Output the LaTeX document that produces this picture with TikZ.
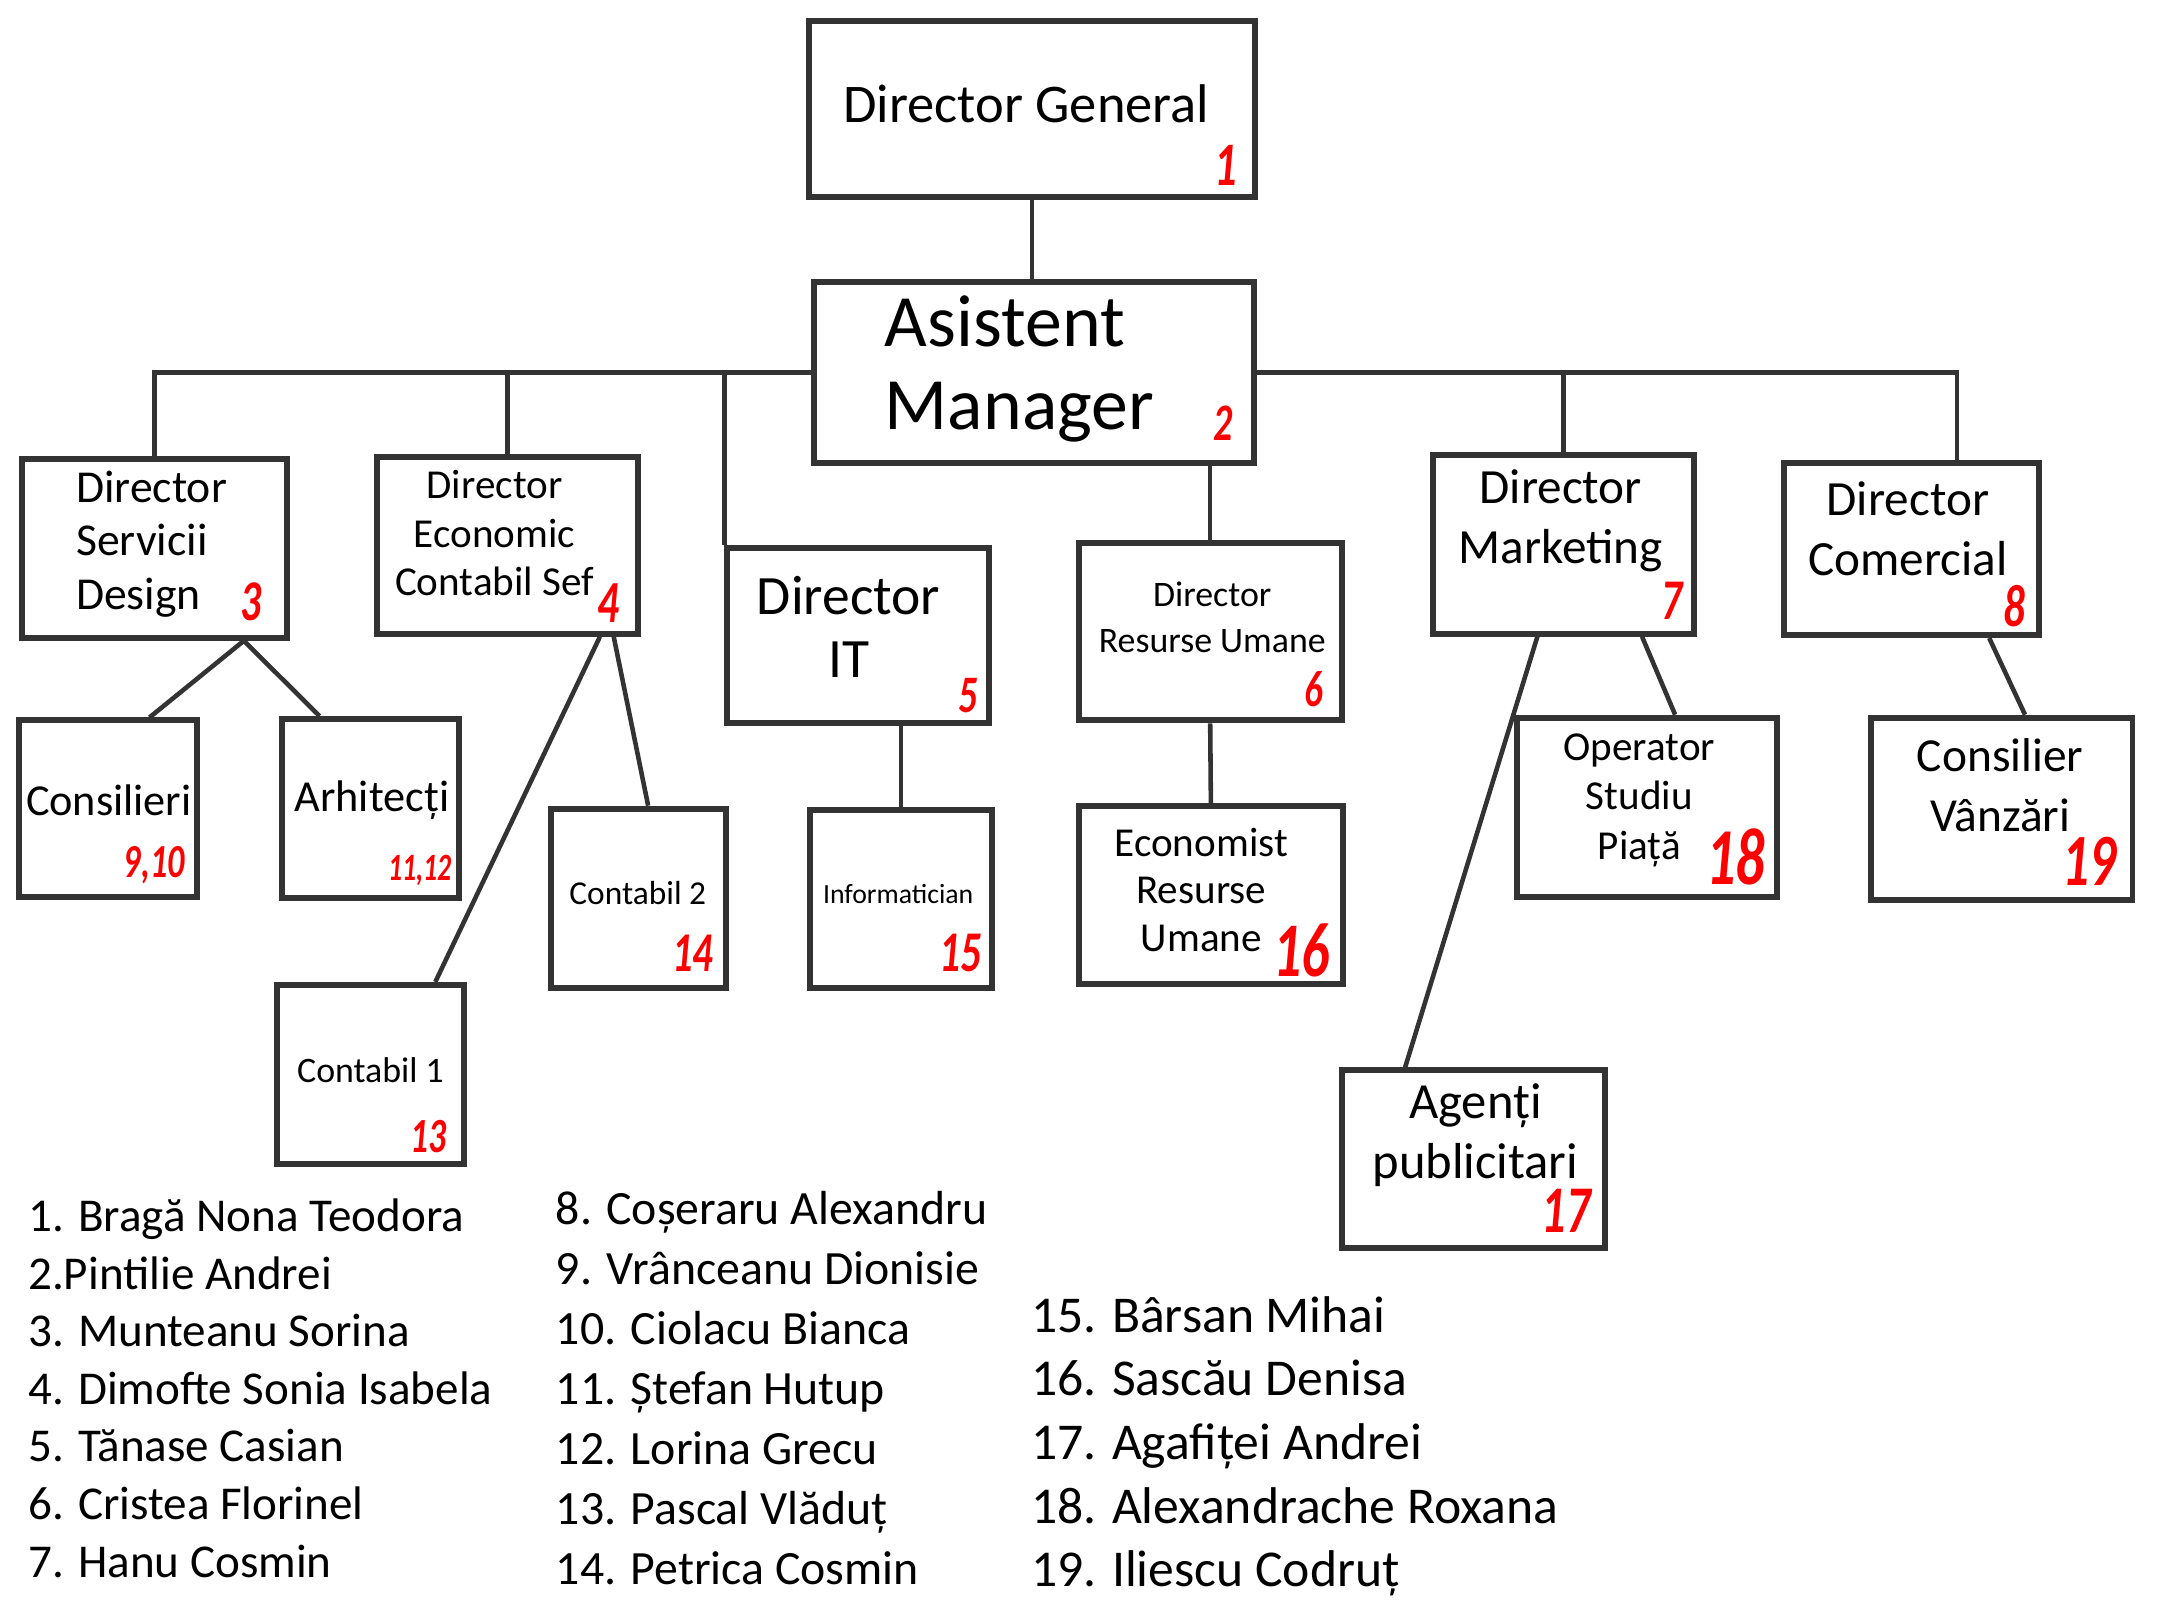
\documentclass[tikz,border=0pt]{standalone}
\usepackage{fontspec}
\setmainfont{Carlito}
\newfontfamily\handnum[FakeStretch=0.72]{Carlito}
\usetikzlibrary{fit,calc}

\tikzset{
  box/.style={draw=black!80, line width=1.7pt, inner sep=0pt},
  wire/.style={draw=black!80, line width=1.3pt},
  lbl/.style 2 args={inner sep=0pt, align=center, font=\fontsize{#1pt}{#2pt}\selectfont},
  lbll/.style 2 args={inner sep=0pt, align=left, font=\fontsize{#1pt}{#2pt}\selectfont},
  num/.style={inner sep=0pt, text=red, font=\handnum\fontsize{#1pt}{#1pt}\selectfont\bfseries\itshape},
  leg/.style={inner sep=0pt, anchor=base west, font=\fontsize{#1pt}{#1pt}\selectfont},
}

\begin{document}
\begin{tikzpicture}[x=0.013776cm, y=-0.013776cm]
\useasboundingbox (0,0) rectangle (1568,1176);

% boxes
\node[box, fit={(587,15) (911,143)}] (dg) {};
\node[box, fit={(591,205) (910,336)}] (am) {};
\node[box, fit={(16,333) (208,463)}] (d3) {};
\node[box, fit={(274,332) (463,460)}] (d4) {};
\node[box, fit={(528,398) (718,525)}] (d5) {};
\node[box, fit={(783,394) (974,523)}] (d6) {};
\node[box, fit={(1040,330) (1230,460)}] (d7) {};
\node[box, fit={(1295,336) (1480,461)}] (d8) {};
\node[box, fit={(14,523) (143,651)}] (cons) {};
\node[box, fit={(205,522) (333,652)}] (arh) {};
\node[box, fit={(400,587) (527,717)}] (cont2) {};
\node[box, fit={(201,715) (337,845)}] (cont1) {};
\node[box, fit={(588,588) (720,717)}] (info) {};
\node[box, fit={(783,585) (975,714)}] (econ) {};
\node[box, fit={(1101,521) (1290,651)}] (oper) {};
\node[box, fit={(974,777) (1165,906)}] (agent) {};
\node[box, fit={(1358,521) (1548,653)}] (vanz) {};

% texts
\node[lbl={15.5}{18}] (tdg) at (745,75) {Director General};
\node[lbll={21}{23.5}] (tam) at (740,268) {Asistent\\Manager};
\node[lbll={13}{15.3}] (td3) at (110,395) {Director\\Servicii\\Design};
\node[lbl={11.7}{13.7}] (td4) at (359,387) {Director\\Economic\\Contabil Sef};
\node[lbl={15.8}{18}] (td5) at (616,455) {Director\\IT};
\node[lbl={10.2}{12.9}] (td6) at (880,448) {Director\\Resurse Umane};
\node[lbl={14}{17.2}] (td7) at (1133,378) {Director\\Marketing};
\node[lbl={14}{17.2}] (td8) at (1385,384) {Director\\Comercial};
\node[lbl={12.6}{15}] (tcons) at (79,581) {Consilieri};
\node[lbl={12.6}{15}] (tarh) at (270,581) {Arhitecți};
\node[lbl={9.5}{12}] (tcont2) at (463,648) {Contabil 2};
\node[lbl={10.2}{12}] (tcont1) at (269,777) {Contabil 1};
\node[lbl={7.9}{10}] (tinfo) at (652,649) {Informatician};
\node[lbl={11.7}{13.5}] (tecon) at (872,646) {Economist\\Resurse\\Umane};
\node[lbl={11.7}{14.1}] (toper) at (1190,581) {Operator\\Studiu\\Piață};
\node[lbl={14.4}{17.2}] (tagent) at (1071,824) {Agenți\\publicitari};
\node[lbl={13.5}{16.9}] (tvanz) at (1452,570) {Consilier\\Vânzări};

% red numbers
\node[num=17.6] (n1) at (890,120) {1};
\node[num=15] (n2) at (888,307) {2};
\node[num=16.4] (n3) at (182,437) {3};
\node[num=17] (n4) at (442,438) {4};
\node[num=15] (n5) at (703,505) {5};
\node[num=14.6] (n6) at (954,500) {6};
\node[num=16.4] (n7) at (1214,436) {7};
\node[num=17] (n8) at (1462,440) {8};
\node[num=13.5] (n9) at (112,628) {9,10};
\node[num=11] (n11) at (305,632) {11,12};
\node[num=14] (n13) at (311,825) {13};
\node[num=16] (n14) at (503,692) {14};
\node[num=16.4] (n15) at (697,692) {15};
\node[num=22] (n16) at (945,690) {16};
\node[num=19] (n17) at (1137,879) {17};
\node[num=23] (n18) at (1260,622) {18};
\node[num=21] (n19) at (1517,625) {19};

% connectors
\draw[wire] (dg.south) -- (dg.south |- am.north);
\draw[wire] (am.west) -| (d3.north);
\draw[wire] (am.west) -| (d4.north);
\draw[wire] (am.west) -| (d5.north west);
\draw[wire] (am.east) -| (d7.north);
\draw[wire] (am.east) -| ($(d8.north)+(33,0)$);
\draw[wire] (am.south -| d6.north) -- (d6.north);
\draw[wire] ($(d3.south)+(65,0)$) -- ($(cons.north)+(30,0)$);
\draw[wire] ($(d3.south)+(65,0)$) -- ($(arh.north)+(-37,0)$);
\draw[wire] ($(d4.south)+(67,0)$) -- ($(cont1.north)+(47,0)$);
\draw[wire] ($(d4.south)+(77,0)$) -- ($(cont2.north)+(7,0)$);
\draw[wire] (info.north |- d5.south) -- (info.north);
\draw[wire] (d6.south) -- (econ.north);
\draw[wire] ($(d7.south)+(-19,0)$) -- ($(agent.north)+(-49.5,0)$);
\draw[wire] ($(d7.south)+(57,0)$) -- ($(oper.north)+(20.5,0)$);
\draw[wire] ($(d8.south)+(56.5,0)$) -- ($(vanz.north)+(17,0)$);

% legend
\foreach \t [count=\i] in {1. Bragă Nona Teodora, 2.Pintilie Andrei, 3. Munteanu Sorina,
    4. Dimofte Sonia Isabela, 5. Tănase Casian, 6. Cristea Florinel, 7. Hanu Cosmin}
  \node[leg=13.4] (la\i) at (20,{894+41.8*(\i-1)}) {\t};
\foreach \t [count=\i] in {8. Coșeraru Alexandru, 9. Vrânceanu Dionisie, 10. Ciolacu Bianca,
    11. Ștefan Hutup, 12. Lorina Grecu, 13. Pascal Vlăduț, 14. Petrica Cosmin}
  \node[leg=13.6] (lb\i) at (403,{889+43.5*(\i-1)}) {\t};
\foreach \t [count=\i] in {15. Bârsan Mihai, 16. Sascău Denisa, 17. Agafiței Andrei,
    18. Alexandrache Roxana, 19. Iliescu Codruț}
  \node[leg=14.7] (lc\i) at (748,{967+46.2*(\i-1)}) {\t};
\end{tikzpicture}
\end{document}
